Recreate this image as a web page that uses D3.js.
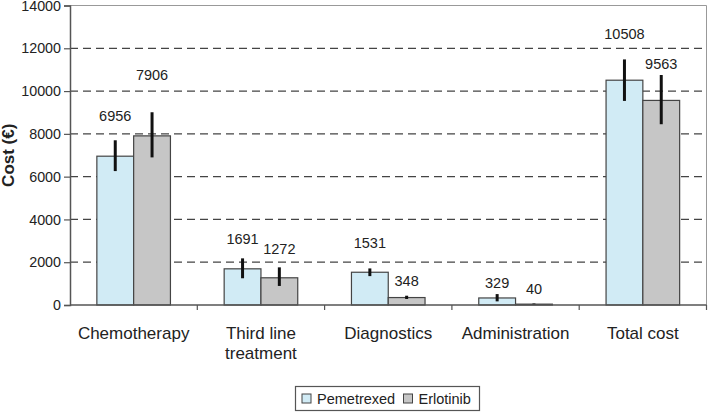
<!DOCTYPE html>
<html>
<head>
<meta charset="utf-8">
<script src="https://cdn.jsdelivr.net/npm/d3@7"></script>
<style>
  body { margin: 0; background: #fff; }
  svg { font-family: "Liberation Sans", Arial, sans-serif; }
</style>
</head>
<body>
<div id="chart"></div>
<script>
const categories = ['Chemotherapy', 'Third line treatment', 'Diagnostics', 'Administration', 'Total cost'];
const seriesNames = ['Pemetrexed', 'Erlotinib'];
const pemetrexed = [6956, 1691, 1531, 329, 10508];
const erlotinib = [7906, 1272, 348, 40, 9563];
const pemLow = [6260, 1250, 1350, 170, 9540];
const pemHigh = [7700, 2180, 1710, 510, 11480];
const erlLow = [6900, 890, 280, 20, 8450];
const erlHigh = [9010, 1760, 434, 70, 10750];
// where the value labels sit, in cost units (hand placed in the original)
const pemLabelAt = [8834, 3118, 2898, 1042, 12700];
const erlLabelAt = [10750, 2650, 1136, 780, 11297];
const yTicks = [0, 2000, 4000, 6000, 8000, 10000, 12000, 14000];

const width = 708, height = 412;
const colors = { Pemetrexed: '#d1ebf5', Erlotinib: '#c6c6c6' };

const rows = [];
categories.forEach((c, i) => {
  rows.push({ cat: c, series: 'Pemetrexed', value: pemetrexed[i], lo: pemLow[i], hi: pemHigh[i], labelAt: pemLabelAt[i] });
  rows.push({ cat: c, series: 'Erlotinib', value: erlotinib[i], lo: erlLow[i], hi: erlHigh[i], labelAt: erlLabelAt[i] });
});

const x0 = d3.scaleBand().domain(categories).range([70, 706.5]);
const x1 = d3.scaleBand().domain(seriesNames).range([0, x0.bandwidth()]).paddingInner(0).paddingOuter(0.73);
const y = d3.scaleLinear().domain([0, 14000]).range([305, 5.5]);

const svg = d3.select('#chart').append('svg')
    .attr('width', width)
    .attr('height', height);

// plot frame (top + right)
svg.append('path')
    .attr('d', `M70,${y(14000)}H706.5V305`)
    .attr('fill', 'none')
    .attr('stroke', '#999')
    .attr('stroke-width', 1);

// dashed grid
svg.append('g')
  .selectAll('line')
  .data(yTicks.filter(t => t > 0 && t < 14000))
  .join('line')
    .attr('x1', 70)
    .attr('x2', 706.5)
    .attr('y1', d => y(d))
    .attr('y2', d => y(d))
    .attr('stroke', '#444')
    .attr('stroke-width', 1.2)
    .attr('stroke-dasharray', '8,5');

// bars
svg.append('g')
  .selectAll('rect')
  .data(rows)
  .join('rect')
    .attr('x', d => x0(d.cat) + x1(d.series))
    .attr('y', d => y(d.value))
    .attr('width', x1.bandwidth())
    .attr('height', d => y(0) - y(d.value))
    .attr('fill', d => colors[d.series])
    .attr('stroke', '#444')
    .attr('stroke-width', 1.2);

// error bars
svg.append('g')
  .selectAll('line')
  .data(rows)
  .join('line')
    .attr('x1', d => x0(d.cat) + x1(d.series) + x1.bandwidth() / 2)
    .attr('x2', d => x0(d.cat) + x1(d.series) + x1.bandwidth() / 2)
    .attr('y1', d => y(d.lo))
    .attr('y2', d => y(d.hi))
    .attr('stroke', '#111')
    .attr('stroke-width', 3);

// value labels
svg.append('g')
  .selectAll('text')
  .data(rows)
  .join('text')
    .attr('x', d => x0(d.cat) + x1(d.series) + x1.bandwidth() / 2)
    .attr('y', d => y(d.labelAt))
    .attr('dy', '0.36em')
    .attr('text-anchor', 'middle')
    .attr('font-size', 14.5)
    .attr('fill', '#222')
    .text(d => d.value);

// y axis
const yAxis = svg.append('g')
    .attr('transform', 'translate(70,0)')
    .call(d3.axisLeft(y).tickValues(yTicks).tickFormat(d3.format('d')).tickSize(6).tickPadding(3));
yAxis.select('.domain').attr('stroke', '#555').attr('stroke-width', 1.5);
yAxis.selectAll('.tick line').attr('stroke', '#555').attr('stroke-width', 1.2);
yAxis.selectAll('.tick text')
    .attr('font-size', 14.3)
    .attr('font-family', '"Liberation Sans", Arial, sans-serif')
    .attr('fill', '#222');

// x axis: ticks at category boundaries
const xAxis = svg.append('g');
xAxis.append('line')
    .attr('x1', 70).attr('x2', 706.5)
    .attr('y1', y(0)).attr('y2', y(0))
    .attr('stroke', '#555')
    .attr('stroke-width', 1.5);
xAxis.selectAll('line.tk')
  .data(categories.slice(1).map(c => x0(c)).concat([x0.range()[1]]))
  .join('line')
    .attr('class', 'tk')
    .attr('x1', d => d).attr('x2', d => d)
    .attr('y1', y(0)).attr('y2', y(0) + 5)
    .attr('stroke', '#555')
    .attr('stroke-width', 1.2);

// category labels, wrapped
const catText = xAxis.selectAll('text.cat')
  .data(categories)
  .join('text')
    .attr('class', 'cat')
    .attr('x', d => x0(d) + x0.bandwidth() / 2)
    .attr('y', 339)
    .attr('text-anchor', 'middle')
    .attr('font-size', 17)
    .attr('fill', '#222');

catText.each(function(d) {
  const t = d3.select(this);
  const words = d.split(' ');
  let line = [];
  let lineNo = 0;
  let tspan = t.append('tspan').attr('x', t.attr('x')).attr('dy', 0);
  for (const w of words) {
    line.push(w);
    tspan.text(line.join(' '));
    if (tspan.node().getComputedTextLength() > 112 && line.length > 1) {
      line.pop();
      tspan.text(line.join(' '));
      line = [w];
      lineNo++;
      tspan = t.append('tspan').attr('x', t.attr('x')).attr('dy', 20).text(w);
    }
  }
});

// y title
svg.append('text')
    .attr('transform', `translate(13.5,${(y(0) + y(14000)) / 2}) rotate(-90)`)
    .attr('text-anchor', 'middle')
    .attr('font-size', 17)
    .attr('font-weight', 'bold')
    .attr('fill', '#222')
    .text('Cost (€)');

// legend
const legend = svg.append('g');
legend.append('rect')
    .attr('x', 295.5).attr('y', 386.5)
    .attr('width', 184).attr('height', 24)
    .attr('fill', '#fff')
    .attr('stroke', '#555')
    .attr('stroke-width', 1.2);

const legendX = [302, 403.5];
const items = legend.selectAll('g.item')
  .data(seriesNames)
  .join('g')
    .attr('class', 'item')
    .attr('transform', (d, i) => `translate(${legendX[i]},394)`);
items.append('rect')
    .attr('width', 9).attr('height', 9)
    .attr('fill', d => colors[d])
    .attr('stroke', '#444')
    .attr('stroke-width', 1);
items.append('text')
    .attr('x', 15)
    .attr('y', 10)
    .attr('font-size', 14.5)
    .attr('fill', '#222')
    .text(d => d);
</script>
</body>
</html>
